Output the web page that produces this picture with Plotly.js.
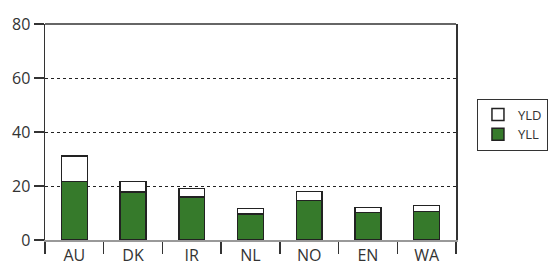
<!DOCTYPE html>
<html><head><meta charset="utf-8">
<script src="https://cdn.plot.ly/plotly-3.0.1.min.js"></script>
<style>html,body{margin:0;padding:0;background:#fff}#c{width:551px;height:270px}</style>
</head><body><div id="c"></div>
<script>
const categories = ["AU","DK","IR","NL","NO","EN","WA"];
const yll = [21.6, 17.7, 15.9, 9.6, 14.7, 10.1, 10.5];
const yld = [9.5, 3.9, 3.2, 2.0, 3.3, 2.0, 2.2];
const yTicks = [0,20,40,60,80];

const traces = [
  {type:'bar', name:'YLL', x:categories, y:yll, width:0.44,
   marker:{color:'#367A2B', line:{color:'#222', width:1.5}}},
  {type:'bar', name:'YLD', x:categories, y:yld, width:0.44,
   marker:{color:'#ffffff', line:{color:'#222', width:1.5}}}
];
const layout = {
  width:551, height:270, barmode:'stack',
  margin:{l:45, r:95, t:24, b:30, autoexpand:false},
  paper_bgcolor:'#fff', plot_bgcolor:'#fff',
  font:{family:'Open Sans, sans-serif', color:'#333'},
  xaxis:{type:'category', tickson:'boundaries', ticks:'outside', ticklen:12, tickcolor:'#333', tickwidth:1.5,
    showline:true, linecolor:'#999', linewidth:1.5, showgrid:false, tickfont:{size:16, color:'#333'}, fixedrange:true},
  yaxis:{range:[0,80], tickvals:yTicks, ticks:'outside', ticklen:10, tickcolor:'#333', tickwidth:1.5,
    showline:true, linecolor:'#333', linewidth:1.5, mirror:true, showgrid:true, gridcolor:'#222', griddash:'dot', gridwidth:1,
    zeroline:false, tickfont:{size:16, color:'#333'}},
  shapes:[{type:'line', xref:'paper', yref:'paper', x0:0, x1:1, y0:1, y1:1, line:{color:'#333', width:1.5}}],
  legend:{x:1.051, y:0.655, xanchor:'left', yanchor:'top', bordercolor:'#333', borderwidth:1,
    font:{size:13, color:'#333'}, itemwidth:30, tracegroupgap:0},
  showlegend:true
};
Plotly.newPlot('c', traces, layout, {staticPlot:true});
</script></body></html>
